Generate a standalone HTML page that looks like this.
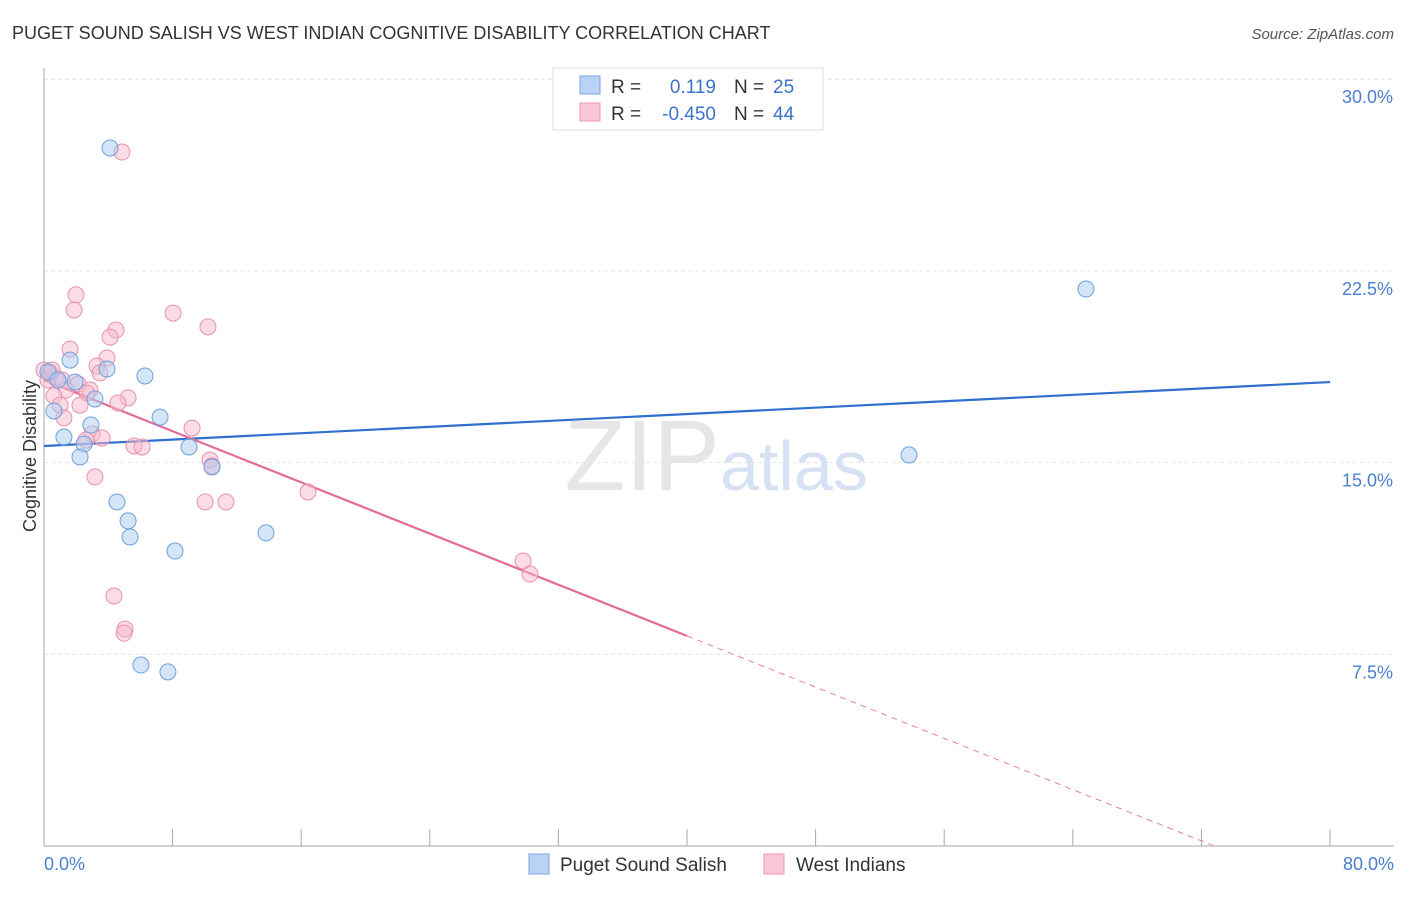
<!DOCTYPE html>
<html><head><meta charset="utf-8"><style>
body{margin:0;background:#fff;font-family:"Liberation Sans",sans-serif;}
svg text{font-family:"Liberation Sans",sans-serif;}
</style></head><body>
<svg width="1406" height="892" xmlns="http://www.w3.org/2000/svg">
<text x="12" y="39" font-size="18" fill="#333">PUGET SOUND SALISH VS WEST INDIAN COGNITIVE DISABILITY CORRELATION CHART</text>
<text x="1394" y="39" font-size="15" fill="#555" font-style="italic" text-anchor="end">Source: ZipAtlas.com</text>
<text x="720" y="490" font-size="100" fill="#e6e6e6" text-anchor="end" font-family="Liberation Serif">ZIP</text>
<text x="720" y="490" font-size="70" fill="#d6e2f3">atlas</text>
<g id="grid"></g>
<g id="axes"></g>
<g id="lines"></g>
<g id="points"></g>
<text x="36" y="456" font-size="18" fill="#333" text-anchor="middle" transform="rotate(-90 36 456)">Cognitive Disability</text>
<text x="44" y="870" font-size="18" fill="#4a7fd0">0.0%</text>
<text x="1394" y="870" font-size="18" fill="#4a7fd0" text-anchor="end">80.0%</text>
<g>
<rect x="553" y="68" width="270" height="62" fill="#fff" stroke="#ddd"/>
<rect x="580" y="76" width="20" height="18" fill="#b8d3f5" stroke="#7aa6e0"/>
<rect x="580" y="103" width="20" height="18" fill="#f9c6d5" stroke="#ec98b2"/>
<text x="611" y="93" font-size="19" fill="#333">R =</text>
<text x="716" y="93" font-size="19" fill="#3b73cc" text-anchor="end">0.119</text>
<text x="734" y="93" font-size="19" fill="#333">N =</text>
<text x="773" y="93" font-size="19" fill="#3b73cc">25</text>
<text x="611" y="120" font-size="19" fill="#333">R =</text>
<text x="716" y="120" font-size="19" fill="#3b73cc" text-anchor="end">-0.450</text>
<text x="734" y="120" font-size="19" fill="#333">N =</text>
<text x="773" y="120" font-size="19" fill="#3b73cc">44</text>
</g>
<g>
<rect x="529" y="854" width="20" height="20" fill="#b8d3f5" stroke="#7aa6e0"/>
<text x="560" y="871" font-size="19" fill="#333">Puget Sound Salish</text>
<rect x="764" y="854" width="20" height="20" fill="#f9c6d5" stroke="#ec98b2"/>
<text x="796" y="871" font-size="19" fill="#333">West Indians</text>
</g>
</svg>
<script>
const yTicks=[7.5,15,22.5,30];
const yTickLabels=["7.5%","15.0%","22.5%","30.0%"];
const xTicks=[0,8,16,24,32,40,48,56,64,72,80];
const blueX=[4.11,64.82,53.81,1.62,3.92,6.28,1.93,3.17,0.62,7.22,2.92,1.24,2.49,9.02,2.24,10.45,4.54,5.23,5.35,13.81,8.15,6.03,7.71,0.25,0.87];
const blueY=[27.31,21.79,15.30,19.01,18.66,18.39,18.15,17.49,17.02,16.78,16.47,16.00,15.73,15.61,15.22,14.83,13.46,12.72,12.09,12.25,11.54,7.08,6.81,18.55,18.23];
const pinkX=[4.85,1.99,1.87,8.03,10.20,4.48,4.11,1.62,3.92,3.30,3.48,0,0.37,0.75,1.12,2.12,1.37,2.86,2.67,0.62,5.23,4.60,2.24,1.00,1.24,9.21,2.99,3.61,2.61,5.60,6.10,10.33,10.45,3.17,10.02,11.32,16.42,29.80,30.23,4.35,5.04,4.98,0.25,0.50];
const pinkY=[27.15,21.56,20.97,20.85,20.31,20.19,19.91,19.44,19.09,18.78,18.51,18.62,18.51,18.31,18.23,18.08,17.84,17.84,17.72,17.61,17.53,17.33,17.25,17.25,16.75,16.35,16.12,15.96,15.88,15.65,15.61,15.10,14.87,14.44,13.46,13.46,13.85,11.15,10.64,9.78,8.49,8.33,18.23,18.62];
const blueTrend=[[0,15.65],[80,18.15]];
const pinkTrend=[[0,18.23],[40,8.22]];
const pinkDash=[[40,8.22],[72.8,0]];
const NS="http://www.w3.org/2000/svg";
const X=v=>44+v/80*1286;
const Y=v=>846-v/7.5*191.7;
function mk(t,a,p){const e=document.createElementNS(NS,t);for(const k in a)e.setAttribute(k,a[k]);document.getElementById(p).appendChild(e);return e;}
yTicks.forEach((t,i)=>{
 const g=mk('line',{x1:44,x2:1394,y1:Y(t),y2:Y(t),stroke:'#e4e4e4','stroke-dasharray':'4 3'},'grid');
 
 
 const l=mk('text',{x:1393,y:Y(t)+24,'font-size':18,fill:'#4a7fd0','text-anchor':'end'},'axes');
 l.textContent=yTickLabels[i];
 
 
});
const ax=mk('line',{x1:44,x2:1394,y1:846,y2:846,stroke:'#aaa'},'axes');


const ay=mk('line',{x1:44,x2:44,y1:68,y2:846,stroke:'#aaa'},'axes');


xTicks.forEach(t=>{
 const k=mk('line',{x1:X(t),x2:X(t),y1:829,y2:846,stroke:'#aaa'},'axes');
 
 
});
function pts(xs,ys,fill,stroke,name){
 xs.forEach((x,i)=>{
  const c=mk('circle',{cx:X(x),cy:Y(ys[i]),r:8,fill:fill,'fill-opacity':0.5,stroke:stroke,'stroke-width':1},'points');
  
  
 });
}
pts(pinkX,pinkY,'#f7b9cc','#e891ad','west-indians-point');
pts(blueX,blueY,'#aacbf2','#6e9fdc','puget-sound-salish-point');
const bl=mk('line',{x1:X(blueTrend[0][0]),y1:Y(blueTrend[0][1]),x2:X(blueTrend[1][0]),y2:Y(blueTrend[1][1]),stroke:'#2f6fd0','stroke-width':2.2},'lines');


const pl=mk('line',{x1:X(pinkTrend[0][0]),y1:Y(pinkTrend[0][1]),x2:X(pinkTrend[1][0]),y2:Y(pinkTrend[1][1]),stroke:'#e56b96','stroke-width':2.2},'lines');


const pd=mk('line',{x1:X(pinkDash[0][0]),y1:Y(pinkDash[0][1]),x2:X(pinkDash[1][0]),y2:Y(pinkDash[1][1]),stroke:'#e9809f','stroke-width':1,'stroke-dasharray':'6 5'},'lines');


</script>
</body></html>
